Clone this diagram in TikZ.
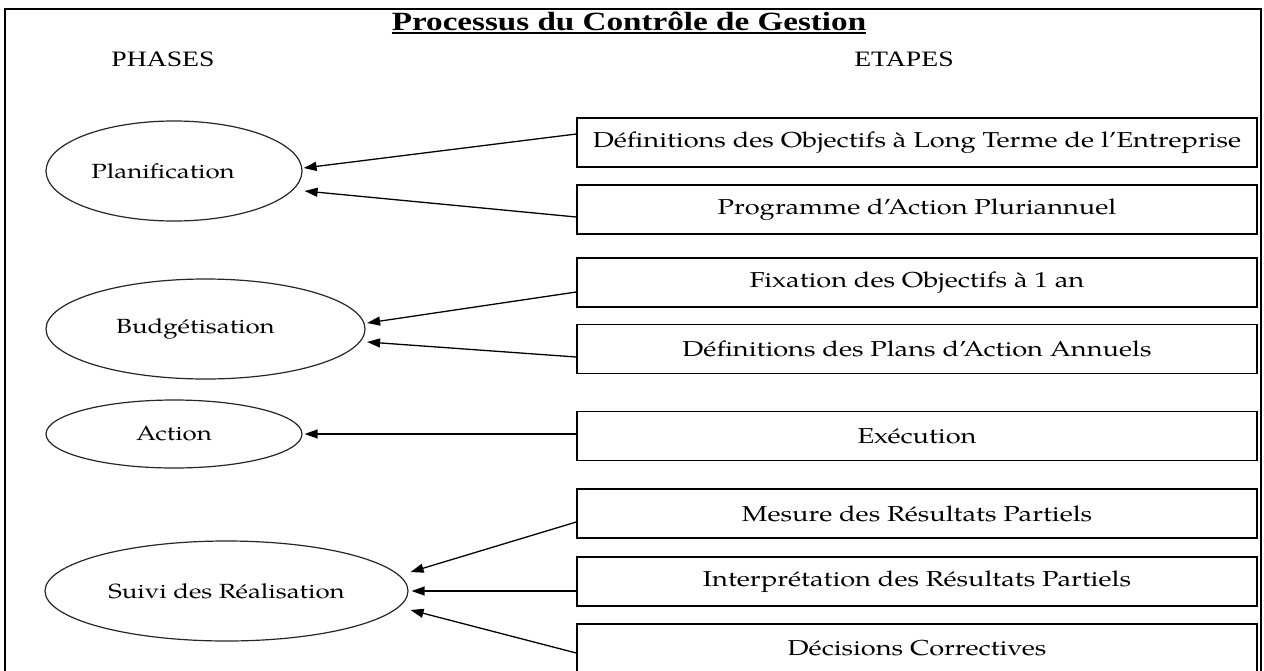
\documentclass[tikz,border=0pt]{standalone}
\usepackage{fontspec}
\setmainfont[FakeStretch=1.26]{TeX Gyre Pagella}
\newfontfamily\timesf[FakeStretch=1.26]{Liberation Serif}
\usetikzlibrary{shapes.geometric,arrows.meta}
\begin{document}
\begin{tikzpicture}[x=1pt,y=-1pt,
  etape/.style={draw=black, line width=1.5pt, minimum width=680pt, minimum height=49pt, inner sep=0pt, font=\fontsize{21.6}{24}\selectfont},
  phase/.style={draw=black!85, line width=1.2pt, ellipse, inner sep=0pt, font=\fontsize{20.5}{24}\selectfont},
  fl/.style={line width=1.3pt, -{Triangle[length=13pt,width=9pt]}},
  entete/.style={anchor=base, inner sep=0pt, font=\timesf\fontsize{22}{26}\selectfont}
]
\useasboundingbox (0,0) rectangle (1264,670);
\fill[white] (0,0) rectangle (1264,670);
\draw[line width=2.5pt] (5,710) -- (5,9) -- (1261,9) -- (1261,710);

\node[anchor=base, inner sep=0pt, font=\timesf\bfseries\fontsize{26.3}{30}\selectfont] (titre) at (629,30) {Processus du Contrôle de Gestion};
\draw[line width=2.5pt] ([yshift=-3pt]titre.base west) -- ([yshift=-3pt]titre.base east);

\node[entete] (phases) at (163,66) {PHASES};
\node[entete] (etapes) at (904,66) {ETAPES};

\node[phase, minimum width=256pt, minimum height=100pt] (pl) at (174,171) {Planification\hspace*{22pt}};
\node[phase, minimum width=319pt, minimum height=100pt] (bu) at (205.5,329) {Budgétisation\hspace*{20pt}};
\node[phase, minimum width=256pt, minimum height=68pt] (ac) at (174,434) {Action};
\node[phase, minimum width=363pt, minimum height=100pt] (su) at (226.5,591) {Suivi des Réalisation};

\node[etape] (b1) at (917,142.5) {Définitions des Objectifs à Long Terme de l’Entreprise};
\node[etape] (b2) at (917,209.5) {Programme d’Action Pluriannuel};
\node[etape] (b3) at (917,282.5) {Fixation des Objectifs à 1 an};
\node[etape] (b4) at (917,349) {Définitions des Plans d’Action Annuels};
\node[etape] (b5) at (917,436) {Exécution};
\node[etape] (b6) at (917,513.5) {Mesure des Résultats Partiels};
\node[etape] (b7) at (917,581.5) {Interprétation des Résultats Partiels};
\node[etape] (b8) at (917,648.5) {Décisions Correctives};

\draw[fl] ([yshift=8.5pt]b1.west) -- ([xshift=1pt,yshift=3pt]pl.east);
\draw[fl] ([yshift=-7.5pt]b2.west) -- ([xshift=2pt,yshift=-20pt]pl.east);
\draw[fl] ([yshift=-9.5pt]b3.west) -- ([xshift=1.5pt,yshift=6pt]bu.east);
\draw[fl] ([yshift=-8pt]b4.west) -- ([xshift=1.5pt,yshift=-13pt]bu.east);
\draw[fl] ([yshift=2pt]b5.west) -- ([xshift=2pt]ac.east);
\draw[fl] ([yshift=-8.5pt]b6.west) -- ([xshift=2pt,yshift=19pt]su.east);
\draw[fl] ([yshift=-9.5pt]b7.west) -- ([xshift=3pt]su.east);
\draw[fl] ([yshift=-4.5pt]b8.west) -- ([xshift=2pt,yshift=-19pt]su.east);
\end{tikzpicture}
\end{document}
